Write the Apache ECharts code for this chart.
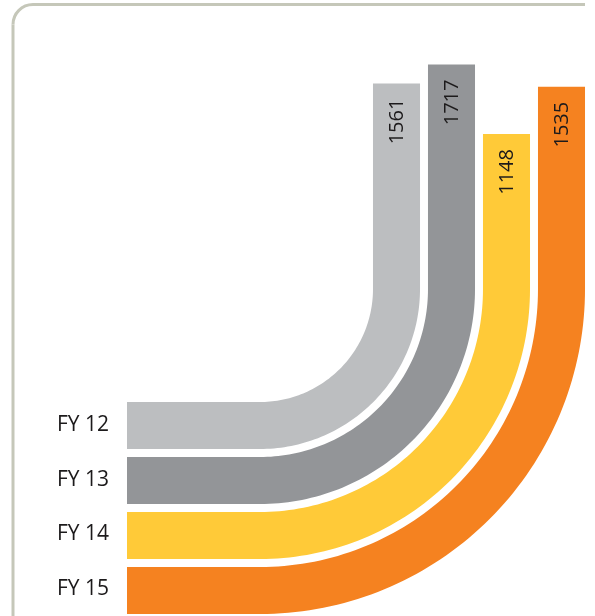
<!DOCTYPE html>
<html><head><meta charset="utf-8">
<script src="https://cdn.jsdelivr.net/npm/echarts@6/dist/echarts.min.js"></script>
<style>html,body{margin:0;padding:0;background:#fff}#c{width:595px;height:616px}</style>
</head><body><div id="c"></div>
<script>
// ---- data ----
const categories = ['FY 12', 'FY 13', 'FY 14', 'FY 15'];
const values = [1561, 1717, 1148, 1535];
const colors = ['#bcbec0', '#939598', '#ffca38', '#f58220'];

// ---- layout ----
const CX = 260, CY = 289;   // centre of the bends
const LEFT = 127;           // start of the horizontal runs
const TEXT = '#1c1a1b';
const FONT = '"Open Sans", "Noto Sans", sans-serif';

const chart = echarts.init(document.getElementById('c'), null, { renderer: 'canvas' });

function renderItem(params, api) {
  const i = api.value(0);
  const v = api.value(1);
  const base = api.coord([i, 0]);
  const top = api.coord([i, v]);
  const band = api.size([1, 0])[0];
  const w = band * 0.855;
  const xL = base[0] - w / 2;
  const rIn = xL - CX, rOut = rIn + w;
  const N = 72;
  const pts = [[LEFT, CY + rIn]];
  for (let k = 0; k <= N; k++) {
    const a = Math.PI / 2 * (1 - k / N);
    pts.push([CX + rIn * Math.cos(a), CY + rIn * Math.sin(a)]);
  }
  pts.push([CX + rIn, top[1]]);
  pts.push([CX + rOut, top[1]]);
  for (let k = 0; k <= N; k++) {
    const a = Math.PI / 2 * (k / N);
    pts.push([CX + rOut * Math.cos(a), CY + rOut * Math.sin(a)]);
  }
  pts.push([LEFT, CY + rOut]);
  return {
    type: 'group',
    children: [
      { type: 'polygon', shape: { points: pts }, style: { fill: colors[i], stroke: null } },
      {
        type: 'text', x: base[0] + 1, y: top[1] + 15, rotation: Math.PI / 2,
        style: { text: String(v), fill: TEXT, fontSize: 20, fontFamily: FONT, align: 'right', verticalAlign: 'middle' }
      }
    ]
  };
}

const seriesData = values.map((v, i) => [i, v]);

chart.setOption({
  animation: false,
  backgroundColor: '#ffffff',
  grid: [
    { left: 369, width: 220, top: 30, bottom: 341.8 },
    { left: LEFT, width: 200, top: 398, height: 220 }
  ],
  xAxis: [
    { type: 'category', gridIndex: 0, data: categories, show: false },
    { type: 'value', gridIndex: 1, show: false }
  ],
  yAxis: [
    { type: 'value', gridIndex: 0, min: 0, max: 2000, show: false },
    {
      type: 'category', gridIndex: 1, data: categories, inverse: true,
      axisLine: { show: false }, axisTick: { show: false }, splitLine: { show: false },
      axisLabel: { margin: 18, fontSize: 21, color: TEXT, fontFamily: FONT }
    }
  ],
  graphic: [
    { type: 'polyline', shape: { points: [[585, 4.5], [33, 4.5]] }, style: { stroke: '#c5c7b9', lineWidth: 3, fill: null } },
    { type: 'arc', shape: { cx: 33, cy: 24.5, r: 20, startAngle: Math.PI, endAngle: Math.PI * 1.5 }, style: { stroke: '#c5c7b9', lineWidth: 3, fill: null } },
    { type: 'polyline', shape: { points: [[13, 24.5], [13, 616]] }, style: { stroke: '#c5c7b9', lineWidth: 3, fill: null } }
  ],
  series: [
    {
      type: 'custom', xAxisIndex: 0, yAxisIndex: 0, renderItem: renderItem,
      encode: { x: 0, y: 1 }, data: seriesData, clip: false
    },
    { type: 'scatter', xAxisIndex: 1, yAxisIndex: 1, data: [] }
  ]
});
</script></body></html>
